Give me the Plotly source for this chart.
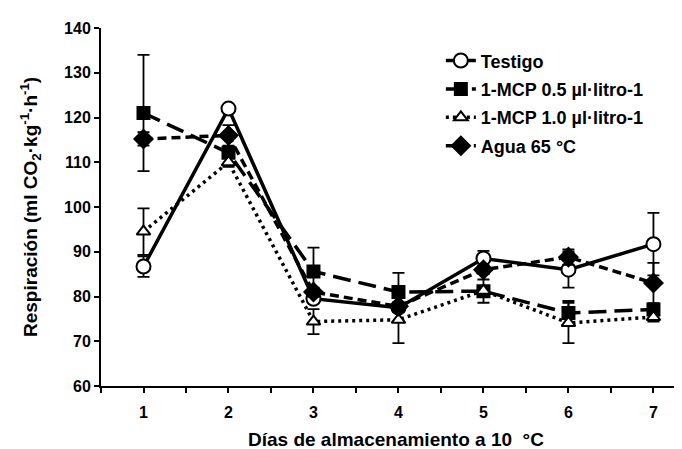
import plotly.graph_objects as go

dias = [1, 2, 3, 4, 5, 6, 7]

testigo = [86.7, 122.0, 79.5, 77.5, 88.5, 86.0, 91.7]
testigo_err = [2.3, 0.8, 1.0, 1.0, 1.7, 4.0, 7.0]

mcp05 = [121.0, 112.1, 85.6, 81.0, 81.2, 76.3, 77.1]
mcp05_err = [13.0, 1.0, 5.3, 4.3, 2.6, 2.7, 1.0]

mcp10 = [94.5, 110.0, 74.4, 74.8, 81.3, 74.1, 75.4]
mcp10_err = [5.2, 1.0, 2.8, 5.2, 1.0, 4.5, 1.0]

agua = [115.2, 116.0, 81.0, 77.8, 86.0, 88.8, 83.0]
agua_err = [1.5, 2.3, 1.0, 1.0, 1.0, 1.7, 4.5]

names = ["Testigo", "1-MCP 0.5 µl·litro-1", "1-MCP 1.0 µl·litro-1", "Agua 65 °C"]

FONT = "Liberation Sans, Arial, sans-serif"

series = [
    (names[0], testigo, testigo_err, "solid", "circle", "white", 14),
    (names[1], mcp05, mcp05_err, "18px,8px", "square", "black", 12),
    (names[2], mcp10, mcp10_err, "3px,4px", "triangle-up", "white", 12),
    (names[3], agua, agua_err, "9px,5px", "diamond", "black", 14),
]

fig = go.Figure()
for i, (nm, ys, es, dash, sym, fill, size) in enumerate(series):
    fig.add_trace(go.Scatter(
        x=dias, y=ys, name=nm, mode="lines+markers",
        legendgroup=f"g{i}",
        line=dict(color="black", width=3.5, dash=dash),
        marker=dict(symbol=sym, size=size, color=fill,
                    line=dict(color="black", width=2)),
        error_y=dict(type="data", array=es, visible=True,
                     color="black", thickness=1.8, width=6),
    ))

fig.update_layout(
    width=682, height=449,
    margin=dict(l=93, r=0, t=20, b=71),
    paper_bgcolor="white", plot_bgcolor="white",
    font=dict(family=FONT, size=16, color="black", weight="bold"),
    showlegend=True,
    legend=dict(x=0.577, y=0.96, xanchor="left", yanchor="top",
                bgcolor="rgba(0,0,0,0)", tracegroupgap=2,
                font=dict(family=FONT, size=18, color="black", weight="bold")),
    xaxis=dict(
        range=[0.5, 7.43], tick0=1, dtick=1,
        showline=True, linecolor="black", linewidth=2,
        ticks="outside", ticklen=5, tickwidth=2, tickcolor="black",
        minor=dict(tick0=0.5, dtick=1, ticks="outside", ticklen=5,
                   tickwidth=2, tickcolor="black"),
        showgrid=False, zeroline=False,
        ticklabelstandoff=6,
        tickfont=dict(family=FONT, size=16, weight="bold"),
    ),
    xaxis2=dict(
        overlaying="x", range=[0.5, 7.43], tick0=1, dtick=1,
        ticks="inside", ticklen=4, tickwidth=2, tickcolor="black",
        showticklabels=False, showline=False, showgrid=False,
        zeroline=False, side="bottom",
    ),
    yaxis=dict(
        range=[60, 140], dtick=10,
        showline=True, linecolor="black", linewidth=2,
        ticks="outside", ticklen=5, tickwidth=2, tickcolor="black",
        showgrid=False, zeroline=False,
        tickfont=dict(family=FONT, size=16, weight="bold"),
    ),
    annotations=[
        dict(text="Días de almacenamiento a 10\u00a0 °C",
             xref="paper", yref="paper", x=0.5, y=0,
             xanchor="center", yanchor="middle", yshift=-53,
             showarrow=False,
             font=dict(family=FONT, size=19, weight="bold")),
        dict(text="Respiración (ml CO<sub>2</sub>·kg<sup>-1</sup>·h<sup>-1</sup>)",
             xref="paper", yref="paper", x=(22 - 93) / 589, y=0.5,
             xanchor="center", yanchor="middle", textangle=-90,
             showarrow=False,
             font=dict(family=FONT, size=19, weight="bold")),
    ],
)

fig.write_html("out.html")
